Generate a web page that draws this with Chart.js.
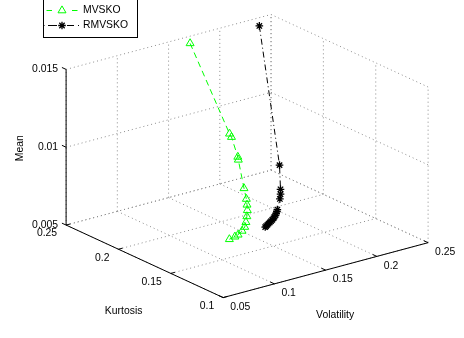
<!DOCTYPE html>
<html>
<head>
<meta charset="utf-8">
<script src="https://cdn.jsdelivr.net/npm/chart.js@4.4.0/dist/chart.umd.min.js"></script>
<style>
    html, body { margin: 0; padding: 0; background: #fff; }
    #wrap { width: 464px; height: 338px; }
</style>
</head>
<body>
<div id="wrap"><canvas id="frontierChart" width="464" height="338"></canvas></div>
<script>
// ============================================
// DATA
// ============================================

const volTicks = [0.05, 0.1, 0.15, 0.2, 0.25];
const kurtTicks = [0.1, 0.15, 0.2, 0.25];
const meanTicks = [0.005, 0.01, 0.015];

const seriesNames = ['MVSKO', 'RMVSKO'];

const mvskoVol  = [0.1656, 0.1586, 0.1595, 0.1577, 0.1583, 0.1528, 0.1504, 0.1493, 0.1484, 0.1462, 0.1420, 0.1390, 0.1363, 0.1308, 0.1283, 0.1235];
const mvskoKurt = [0.2447, 0.2002, 0.1992, 0.1914, 0.1915, 0.1807, 0.1761, 0.1744, 0.1732, 0.1715, 0.1683, 0.1665, 0.1664, 0.1648, 0.1654, 0.1660];
const mvskoMean = [0.0148, 0.0105, 0.0103, 0.0093, 0.0091, 0.0077, 0.0072, 0.0069, 0.0066, 0.0063, 0.0061, 0.0059, 0.0057, 0.0056, 0.0055, 0.0054];

const rmvskoVol  = [0.2296, 0.1891, 0.1782, 0.1759, 0.1732, 0.1637, 0.1650, 0.1661, 0.1675, 0.1667, 0.1663, 0.1657, 0.1651, 0.1647, 0.1645, 0.1643, 0.1639, 0.1641];
const rmvskoKurt = [0.2412, 0.1823, 0.1707, 0.1684, 0.1664, 0.1595, 0.1612, 0.1630, 0.1650, 0.1653, 0.1657, 0.1663, 0.1669, 0.1677, 0.1687, 0.1696, 0.1704, 0.1715];
const rmvskoMean = [0.0149, 0.0085, 0.0075, 0.0073, 0.0071, 0.0068, 0.0066, 0.0064, 0.0062, 0.0061, 0.0060, 0.0059, 0.0058, 0.0057, 0.0056, 0.0055, 0.0054, 0.0053];

// ============================================
// 3D VIEW (fixed camera, MATLAB style box)
// ============================================

const V0 = volTicks[0], V1 = volTicks[volTicks.length - 1];
const K0 = kurtTicks[0], K1 = kurtTicks[kurtTicks.length - 1];
const M0 = meanTicks[0], M1 = meanTicks[meanTicks.length - 1];

// screen position of the (V0, K1, M0) corner and unit axis vectors
const view = { ox: 62, oy: 227, vx: 1050, vy: -284, kx: 1073, ky: 500, mz: 16100 };

function project(v, k, m) {
    return {
        x: view.ox + view.vx * (v - V0) + view.kx * (K1 - k),
        y: view.oy + view.vy * (v - V0) + view.ky * (K1 - k) - view.mz * (m - M0)
    };
}

const FONT = '10.4px "Liberation Sans", Arial, Helvetica, sans-serif';
const GREEN = '#00ff00';
const GRID = '#8c8c8c';

// ============================================
// DATASETS
// ============================================

function segment(a, b, color, dash) {
    return {
        data: [project(a[0], a[1], a[2]), project(b[0], b[1], b[2])],
        showLine: true,
        borderColor: color,
        borderWidth: 1,
        borderDash: dash,
        pointRadius: 0,
        clip: false,
        order: dash.length ? 20 : 10
    };
}

const datasets = [];

datasets.push({
    label: seriesNames[0],
    data: mvskoVol.map((v, i) => project(v, mvskoKurt[i], mvskoMean[i])),
    showLine: true,
    borderColor: GREEN,
    borderWidth: 1,
    borderDash: [6, 4],
    pointStyle: 'triangle',
    pointRadius: 4.6,
    pointBorderColor: GREEN,
    pointBackgroundColor: 'rgba(0,0,0,0)',
    pointBorderWidth: 1,
    clip: false,
    order: 1
});

datasets.push({
    label: seriesNames[1],
    data: rmvskoVol.map((v, i) => project(v, rmvskoKurt[i], rmvskoMean[i])),
    showLine: true,
    borderColor: '#000',
    borderWidth: 1,
    borderDash: [6, 3, 1, 3],
    pointStyle: 'star',
    pointRadius: 3.8,
    pointBorderColor: '#000',
    pointBorderWidth: 1.3,
    clip: false,
    order: 0
});

// grid: floor, back wall (kurt = K1), side wall (vol = V1)
const dot = [1, 3];
volTicks.forEach(v => {
    datasets.push(segment([v, K1, M0], [v, K0, M0], GRID, dot));
    datasets.push(segment([v, K1, M0], [v, K1, M1], GRID, dot));
});
kurtTicks.forEach(k => {
    datasets.push(segment([V0, k, M0], [V1, k, M0], GRID, dot));
    datasets.push(segment([V1, k, M0], [V1, k, M1], GRID, dot));
});
meanTicks.forEach(m => {
    datasets.push(segment([V0, K1, m], [V1, K1, m], GRID, dot));
    datasets.push(segment([V1, K1, m], [V1, K0, m], GRID, dot));
});

// axes with tick marks
const tk = 0.004;
datasets.push(segment([V0, K1, M0], [V0, K1, M1], '#000', []));
datasets.push(segment([V0, K1, M0], [V0, K0, M0], '#000', []));
datasets.push(segment([V0, K0, M0], [V1, K0, M0], '#000', []));
meanTicks.forEach(m => datasets.push(segment([V0, K1, m], [V0, K1 + tk, m], '#000', [])));
kurtTicks.forEach(k => datasets.push(segment([V0, k, M0], [V0 + tk, k, M0], '#000', [])));
volTicks.forEach(v => datasets.push(segment([v, K0, M0], [v, K0 + tk, M0], '#000', [])));

// ============================================
// TEXT + LEGEND PLUGIN
// ============================================

const labelsPlugin = {
    id: 'labels3d',
    afterDatasetsDraw(chart) {
        const ctx = chart.ctx;
        const sx = chart.scales.x, sy = chart.scales.y;
        const px = p => ({ x: sx.getPixelForValue(p.x), y: sy.getPixelForValue(p.y) });

        ctx.save();
        ctx.font = FONT;
        ctx.fillStyle = '#000';
        ctx.textBaseline = 'middle';

        // tick labels
        ctx.textAlign = 'right';
        meanTicks.forEach(m => {
            const p = px(project(V0, K1, m));
            ctx.fillText(String(m), p.x - 8, p.y);
        });
        kurtTicks.forEach(k => {
            const p = px(project(V0, k, M0));
            ctx.fillText(String(k), p.x - 9, p.y + 8.5);
        });
        ctx.textAlign = 'left';
        volTicks.forEach(v => {
            const p = px(project(v, K0, M0));
            ctx.fillText(String(v), p.x + 7, p.y + 9.5);
        });

        // axis titles
        ctx.textAlign = 'center';
        const kMid = px(project(V0, (K0 + K1) / 2, M0));
        ctx.fillText('Kurtosis', kMid.x - 21, kMid.y + 50);
        const vMid = px(project((V0 + V1) / 2, K0, M0));
        ctx.fillText('Volatility', vMid.x + 9.5, vMid.y + 45);
        const mMid = px(project(V0, K1, (M0 + M1) / 2));
        ctx.save();
        ctx.translate(mMid.x - 46, mMid.y + 1);
        ctx.rotate(-Math.PI / 2);
        ctx.fillText('Mean', 0, 0);
        ctx.restore();

        // legend
        ctx.fillStyle = '#fff';
        ctx.fillRect(43.5, -2, 94, 39.5);
        ctx.strokeStyle = '#000';
        ctx.lineWidth = 1;
        ctx.strokeRect(43.5, -2, 94, 39.5);

        const rows = [10.5, 25.5];
        // MVSKO sample
        ctx.strokeStyle = GREEN;
        ctx.beginPath();
        ctx.moveTo(46.5, rows[0]); ctx.lineTo(52, rows[0]);
        ctx.moveTo(72, rows[0]); ctx.lineTo(77.5, rows[0]);
        ctx.stroke();
        ctx.beginPath();
        ctx.moveTo(62, rows[0] - 4.6);
        ctx.lineTo(66, rows[0] + 2.3);
        ctx.lineTo(58, rows[0] + 2.3);
        ctx.closePath();
        ctx.stroke();
        // RMVSKO sample
        ctx.strokeStyle = '#000';
        ctx.beginPath();
        ctx.moveTo(43.5, rows[1]); ctx.lineTo(44.5, rows[1]);
        ctx.moveTo(48, rows[1]); ctx.lineTo(57, rows[1]);
        ctx.moveTo(67, rows[1]); ctx.lineTo(74, rows[1]);
        ctx.moveTo(78, rows[1]); ctx.lineTo(79, rows[1]);
        ctx.stroke();
        ctx.beginPath();
        const r = 3.8;
        ctx.lineWidth = 1.3;
        ctx.moveTo(62 - r, rows[1]); ctx.lineTo(62 + r, rows[1]);
        ctx.moveTo(62, rows[1] - r); ctx.lineTo(62, rows[1] + r);
        const d = r * 0.707;
        ctx.moveTo(62 - d, rows[1] - d); ctx.lineTo(62 + d, rows[1] + d);
        ctx.moveTo(62 - d, rows[1] + d); ctx.lineTo(62 + d, rows[1] - d);
        ctx.stroke();

        ctx.fillStyle = '#000';
        ctx.textAlign = 'left';
        ctx.fillText(seriesNames[0], 83, rows[0]);
        ctx.fillText(seriesNames[1], 83, rows[1]);
        ctx.restore();
    }
};

// ============================================
// CHART
// ============================================

new Chart(document.getElementById('frontierChart'), {
    type: 'scatter',
    data: { datasets: datasets },
    options: {
        responsive: false,
        animation: false,
        devicePixelRatio: 1,
        layout: { padding: 0 },
        plugins: {
            legend: { display: false },
            tooltip: { enabled: false }
        },
        scales: {
            x: { type: 'linear', min: 0, max: 464, display: false },
            y: { type: 'linear', min: 0, max: 338, reverse: true, display: false }
        }
    },
    plugins: [labelsPlugin]
});
</script>
</body>
</html>
